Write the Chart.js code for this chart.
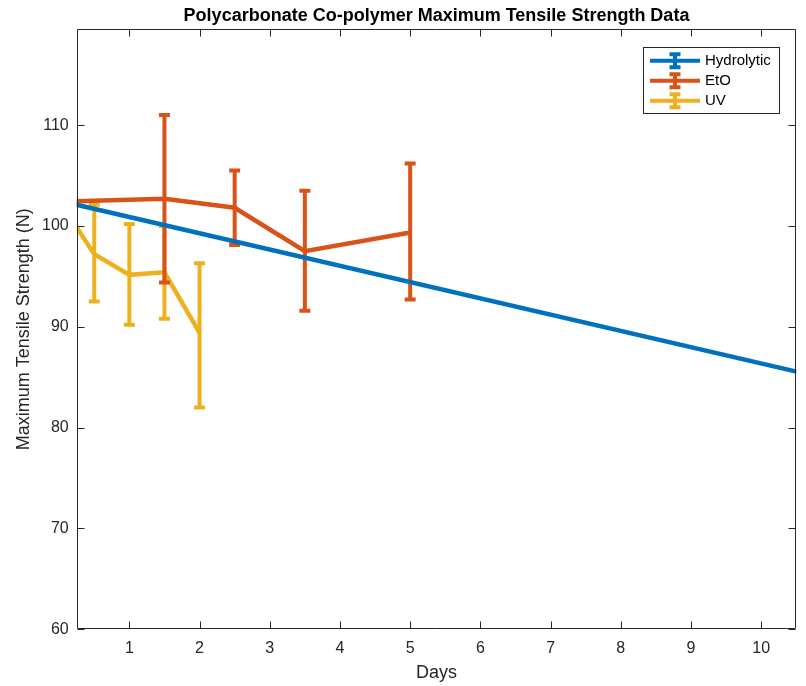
<!DOCTYPE html>
<html>
<head>
<meta charset="utf-8">
<script src="https://cdn.jsdelivr.net/npm/chart.js@4.4.1/dist/chart.umd.min.js"></script>
<style>
  html, body { margin: 0; padding: 0; background: #fff; }
</style>
</head>
<body>
<canvas id="grafico" width="806" height="686"></canvas>
<script>
// dados
let diasHidro = [0, 14];
let mediaHidro = [102.5, 79.9];

let diasEtO = [0, 1.5, 2.5, 3.5, 5];
let mediaEtO = [102.4, 102.7, 101.8, 97.5, 99.35];
let minEtO = [102.4, 94.4, 98.1, 91.6, 92.7];
let maxEtO = [102.4, 111.0, 105.5, 103.5, 106.2];

let diasUV = [0, 0.5, 1, 1.5, 2];
let mediaUV = [102.5, 97.2, 95.15, 95.4, 89.4];
let minUV = [102.5, 92.5, 90.2, 90.8, 82.0];
let maxUV = [102.5, 102.1, 100.2, 100.0, 96.3];

let ticksX = [1, 2, 3, 4, 5, 6, 7, 8, 9, 10];
let ticksY = [60, 70, 80, 90, 100, 110];

const azul = '#0072BD';
const laranja = '#D95319';
const amarelo = '#EDB120';
const cinza = '#262626';
const fonte = "'Liberation Sans', Arial, Helvetica, sans-serif";

function pontos(dias, media) {
    return dias.map((d, i) => ({ x: d, y: media[i] }));
}

// barras de erro desenhadas logo depois de cada serie
const barrasErro = {
    id: 'barrasErro',
    afterDatasetDraw(chart, args) {
        let ds = chart.data.datasets[args.index];
        if (!ds.erroMin) return;
        let ctx = chart.ctx, a = chart.chartArea;
        let sx = chart.scales.x, sy = chart.scales.y;
        ctx.save();
        ctx.beginPath();
        ctx.rect(a.left, a.top, a.right - a.left, a.bottom - a.top);
        ctx.clip();
        ctx.strokeStyle = ds.borderColor;
        ctx.lineWidth = 4;
        ctx.lineCap = 'butt';
        ds.data.forEach((p, i) => {
            let px = sx.getPixelForValue(p.x);
            let lo = sy.getPixelForValue(ds.erroMin[i]);
            let hi = sy.getPixelForValue(ds.erroMax[i]);
            if (lo === hi) return;
            ctx.beginPath();
            ctx.moveTo(px, lo); ctx.lineTo(px, hi);
            ctx.moveTo(px - 5.5, lo); ctx.lineTo(px + 5.5, lo);
            ctx.moveTo(px - 5.5, hi); ctx.lineTo(px + 5.5, hi);
            ctx.stroke();
        });
        ctx.restore();
    }
};

// caixa dos eixos com marcas para dentro
const caixaEixos = {
    id: 'caixaEixos',
    afterDatasetsDraw(chart) {
        let ctx = chart.ctx, a = chart.chartArea;
        let sx = chart.scales.x, sy = chart.scales.y;
        let l = Math.round(a.left) + 0.5, r = Math.round(a.right) - 0.5;
        let t = Math.round(a.top) + 0.5, b = Math.round(a.bottom) - 0.5;
        ctx.save();
        ctx.strokeStyle = cinza;
        ctx.lineWidth = 1;
        ctx.beginPath();
        ctx.rect(l, t, r - l, b - t);
        sx.ticks.forEach(tk => {
            let px = Math.round(sx.getPixelForValue(tk.value)) + 0.5;
            ctx.moveTo(px, b); ctx.lineTo(px, b - 7);
            ctx.moveTo(px, t); ctx.lineTo(px, t + 7);
        });
        sy.ticks.forEach(tk => {
            let py = Math.round(sy.getPixelForValue(tk.value)) + 0.5;
            ctx.moveTo(l, py); ctx.lineTo(l + 7, py);
            ctx.moveTo(r, py); ctx.lineTo(r - 7, py);
        });
        ctx.stroke();
        ctx.restore();
    }
};

// legenda no canto superior direito
const legenda = {
    id: 'legenda',
    afterDraw(chart) {
        let ctx = chart.ctx;
        let x0 = 643.5, y0 = 47.5, w = 136, h = 66;
        ctx.save();
        ctx.fillStyle = '#fff';
        ctx.fillRect(x0, y0, w, h);
        ctx.strokeStyle = cinza;
        ctx.lineWidth = 1;
        ctx.strokeRect(x0, y0, w, h);
        ctx.font = '15px ' + fonte;
        ctx.textBaseline = 'middle';
        chart.data.datasets.forEach((ds, i) => {
            let cy = 60.7 + i * 20;
            let cx = 675;
            ctx.strokeStyle = ds.borderColor;
            ctx.lineWidth = 4;
            ctx.beginPath();
            ctx.moveTo(650, cy); ctx.lineTo(700, cy);
            ctx.moveTo(cx, cy - 6.5); ctx.lineTo(cx, cy + 6.5);
            ctx.moveTo(cx - 5.5, cy - 6.5); ctx.lineTo(cx + 5.5, cy - 6.5);
            ctx.moveTo(cx - 5.5, cy + 6.5); ctx.lineTo(cx + 5.5, cy + 6.5);
            ctx.stroke();
            ctx.fillStyle = '#000';
            ctx.fillText(ds.label, 705, cy + 0.5);
        });
        ctx.restore();
    }
};

let ctx1 = document.getElementById('grafico').getContext('2d');
let grafico = new Chart(ctx1, {
    type: 'line',
    data: {
        datasets: [{
            label: 'Hydrolytic',
            data: pontos(diasHidro, mediaHidro),
            borderColor: azul,
            borderWidth: 4.5,
            pointRadius: 0,
            tension: 0,
            fill: false
        }, {
            label: 'EtO',
            data: pontos(diasEtO, mediaEtO),
            erroMin: minEtO,
            erroMax: maxEtO,
            borderColor: laranja,
            borderWidth: 4.5,
            pointRadius: 0,
            tension: 0,
            fill: false
        }, {
            label: 'UV',
            data: pontos(diasUV, mediaUV),
            erroMin: minUV,
            erroMax: maxUV,
            borderColor: amarelo,
            borderWidth: 4.5,
            pointRadius: 0,
            tension: 0,
            fill: false
        }]
    },
    options: {
        responsive: false,
        animation: false,
        layout: { padding: { top: 0, right: 9.7, left: 0, bottom: 0 } },
        plugins: {
            legend: { display: false },
            tooltip: { enabled: false },
            title: {
                display: true,
                fullSize: false,
                text: 'Polycarbonate Co-polymer Maximum Tensile Strength Data',
                color: '#000',
                font: { family: fonte, size: 18, weight: 'bold', lineHeight: 1.2 },
                padding: { top: 5.5, bottom: 2.2 }
            }
        },
        scales: {
            x: {
                type: 'linear',
                min: 0.25,
                max: 10.5,
                grid: { display: false, drawTicks: false },
                border: { display: false },
                afterBuildTicks: s => { s.ticks = ticksX.map(v => ({ value: v })); },
                afterFit: s => { s.height = 56.7; },
                ticks: {
                    color: cinza,
                    padding: 10,
                    maxRotation: 0,
                    font: { family: fonte, size: 16 }
                },
                title: {
                    display: true,
                    text: 'Days',
                    color: cinza,
                    font: { family: fonte, size: 18, lineHeight: 1.2 },
                    padding: { top: 0, bottom: 2.2 }
                }
            },
            y: {
                min: 60,
                max: 119.5,
                grid: { display: false, drawTicks: false },
                border: { display: false },
                afterBuildTicks: s => { s.ticks = ticksY.map(v => ({ value: v })); },
                afterFit: s => { s.width = 76.7; },
                ticks: {
                    color: cinza,
                    padding: 8,
                    font: { family: fonte, size: 16 }
                },
                title: {
                    display: true,
                    text: 'Maximum Tensile Strength (N)',
                    color: cinza,
                    font: { family: fonte, size: 18, lineHeight: 1.2 },
                    padding: { top: 13.6, bottom: 0 }
                }
            }
        }
    },
    plugins: [barrasErro, caixaEixos, legenda]
});
</script>
</body>
</html>
